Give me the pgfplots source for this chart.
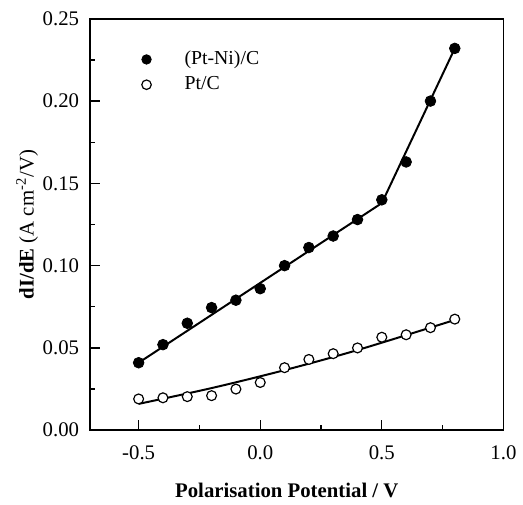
\documentclass[border=0pt]{standalone}
\usepackage{fontspec}
\setmainfont{Liberation Serif}
\usepackage{pgfplots}
\pgfplotsset{compat=1.18}

% measured points
\pgfplotstableread{
x y
-0.5 0.041
-0.4 0.052
-0.3 0.065
-0.2 0.0745
-0.1 0.079
0.0 0.086
0.1 0.100
0.2 0.111
0.3 0.118
0.4 0.128
0.5 0.140
0.6 0.163
0.7 0.200
0.8 0.232
}\ptni
\pgfplotstableread{
x y
-0.5 0.019
-0.4 0.0197
-0.3 0.0204
-0.2 0.021
-0.1 0.025
0.0 0.029
0.1 0.038
0.2 0.043
0.3 0.0465
0.4 0.050
0.5 0.0565
0.6 0.058
0.7 0.0623
0.8 0.0675
}\ptc
% fitted lines
\pgfplotstableread{
x y
-0.5 0.041
0.5 0.138
0.8 0.232
}\ptnifit
\pgfplotstableread{
x y
-0.5 0.016
-0.2 0.0256
0.1 0.0365
0.4 0.0487
0.8 0.067
}\ptcfit

\newcommand{\lblfont}{\fontsize{10.5}{12}\selectfont}

\begin{document}
\begin{tikzpicture}
\begin{axis}[
  width=209pt, height=208pt, scale only axis,
  xmin=-0.7, xmax=1.0, ymin=0, ymax=0.25,
  xtick={-0.5,0,0.5,1.0},
  ytick={0,0.05,0.10,0.15,0.20,0.25},
  minor x tick num=1, minor y tick num=1,
  tick align=inside, tick pos=left,
  major tick length=5pt, minor tick length=2.5pt,
  axis line style={line width=0.75pt},
  every tick/.style={black, line width=0.6pt},
  /pgf/number format/assume math mode=true,
  ticklabel style={font=\lblfont},
  xticklabel style={/pgf/number format/.cd, fixed, fixed zerofill, precision=1, /tikz/.cd, yshift=-4.5pt},
  yticklabel style={/pgf/number format/.cd, fixed, fixed zerofill, precision=2, /tikz/.cd, xshift=-2pt},
  scaled y ticks=false,
  xlabel={\textbf{Polarisation Potential / V}},
  ylabel={\textbf{dI/dE} (A cm\textsuperscript{-2}/V)},
  xlabel style={font=\lblfont, at={(axis description cs:0.476,0)}, anchor=north, yshift=-23pt},
  ylabel style={font=\lblfont, at={(axis description cs:-0.152,0.5)}, anchor=center},
  legend style={at={(axis description cs:0.12,0.932)}, anchor=north west, draw=none, fill=none,
    font=\fontsize{10}{12}\selectfont, row sep=0.5pt, inner sep=0pt},
  legend cell align=left,
  legend image code/.code={
    \path[draw=none, fill=none] (0pt,0pt) rectangle (20.5pt,0pt);
    \draw[#1, only marks, mark size=2.4pt] plot coordinates {(3.3pt,0pt)};
  },
]
\addplot[black, line width=1pt, forget plot] table {\ptnifit};
\addplot[black, line width=1pt, smooth, forget plot] table {\ptcfit};
\addplot[only marks, mark=*, mark size=2.7pt, mark options={black, fill=black}] table {\ptni};
\addlegendentry{(Pt-Ni)/C}
\addplot[only marks, mark=*, mark size=2.5pt, mark options={black, fill=white, line width=0.6pt}] table {\ptc};
\addlegendentry{Pt/C}
\end{axis}
\path (current axis.south west) ++(-45.5pt,-33.5pt);
\path (current axis.north east) ++(7pt,9.5pt);
\end{tikzpicture}
\end{document}
